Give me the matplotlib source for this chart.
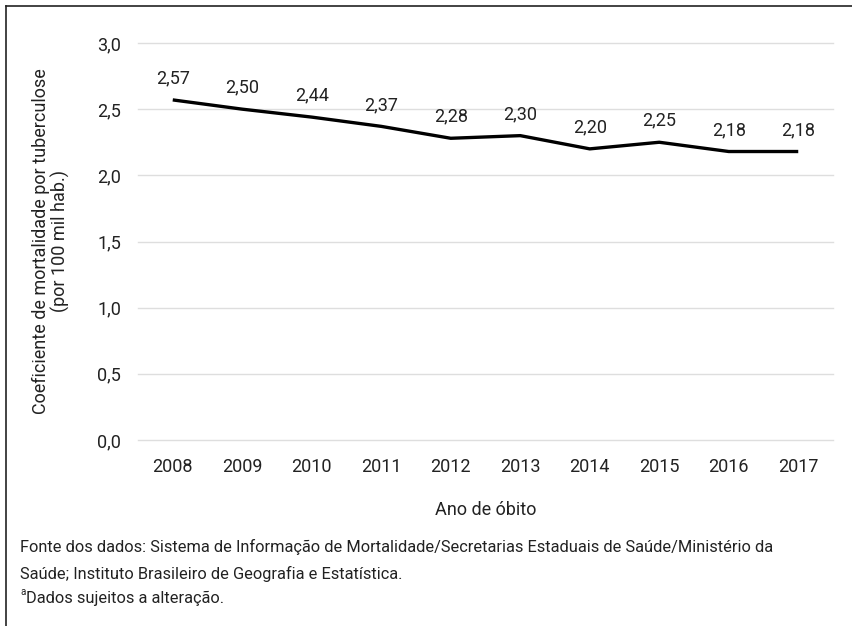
import matplotlib.pyplot as plt
from matplotlib.lines import Line2D

plt.rcParams['font.family'] = ['Roboto', 'DejaVu Sans']

years = ['2008', '2009', '2010', '2011', '2012', '2013', '2014', '2015', '2016', '2017']
rates = [2.57, 2.50, 2.44, 2.37, 2.28, 2.30, 2.20, 2.25, 2.18, 2.18]
yticks = [0.0, 0.5, 1.0, 1.5, 2.0, 2.5, 3.0]

text_color = '#222222'

fig = plt.figure(figsize=(8.52, 6.26), dpi=100)
ax = fig.add_axes([138 / 852, 1 - 440 / 626, 695 / 852, 397 / 626])

x = list(range(len(years)))
ax.plot(x, rates, color='black', lw=2.4, solid_capstyle='butt')

for xi, v in zip(x, rates):
    ax.annotate(f'{v:.2f}'.replace('.', ','), (xi, v), xytext=(0, 9),
                textcoords='offset points', ha='center', va='bottom',
                fontsize=13, color=text_color)

ax.set_xlim(-0.5, len(years) - 0.5)
ax.set_ylim(0, 3.0)
ax.set_xticks(x)
ax.set_xticklabels(years)
ax.set_yticks(yticks)
ax.set_yticklabels([f'{t:.1f}'.replace('.', ',') for t in yticks])
ax.tick_params(length=0, labelsize=13, labelcolor=text_color)
ax.tick_params(axis='x', pad=13)
ax.tick_params(axis='y', pad=12)
ax.grid(axis='y', color='#dedede', lw=1, clip_on=False)
ax.set_axisbelow(True)
for s in ax.spines.values():
    s.set_visible(False)

ax.set_xlabel('Ano de óbito', fontsize=13, color=text_color, labelpad=18)
ax.set_ylabel('Coeficiente de mortalidade por tuberculose\n(por 100 mil hab.)',
              fontsize=13, color=text_color, labelpad=20, linespacing=1.05)

# footnote
notes = ['Fonte dos dados: Sistema de Informação de Mortalidade/Secretarias Estaduais de Saúde/Ministério da',
         'Saúde; Instituto Brasileiro de Geografia e Estatística.']
fig.text(20 / 852, 1 - 547 / 626, notes[0], fontsize=11.8, color=text_color, va='center')
fig.text(20 / 852, 1 - 574 / 626, notes[1], fontsize=11.8, color=text_color, va='center')
fig.text(20 / 852, 1 - 592 / 626, 'a', fontsize=7, color=text_color, va='center')
fig.text(26.5 / 852, 1 - 598 / 626, 'Dados sujeitos a alteração.',
         fontsize=11.8, color=text_color, va='center')

# outer frame: left and top edges
fig.add_artist(Line2D([6 / 852, 6 / 852], [0, 1 - 6 / 626], color='#222222', lw=1.2,
                      transform=fig.transFigure))
fig.add_artist(Line2D([6 / 852, 1], [1 - 6 / 626, 1 - 6 / 626], color='#222222', lw=1.2,
                      transform=fig.transFigure))

fig.savefig('out.png', dpi=100)
